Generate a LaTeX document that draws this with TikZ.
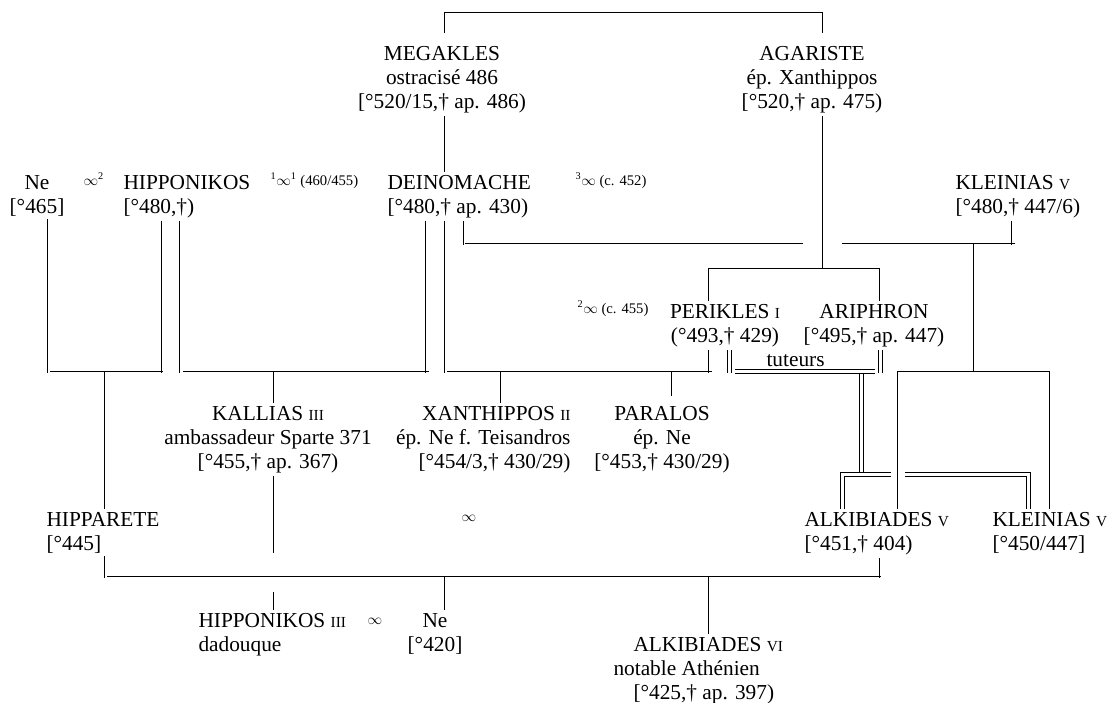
\documentclass[tikz,border=0pt]{standalone}
\usepackage{fontspec}
\setmainfont{Liberation Serif}
\usepackage{tikz}

\newcommand\rmn[1]{{\fontsize{11.5}{13}\selectfont #1}}

\tikzset{
    person/.style = {inner xsep=0pt, inner ysep=2pt, font=\fontsize{16}{18}\selectfont},
    note/.style   = {inner sep=0pt, anchor=base west, font=\fontsize{11}{13}\selectfont},
    tutor/.style  = {line width=0.6pt}
}

\begin{document}
\begin{tikzpicture}[x=0.75pt, y=-0.75pt, line width=0.75pt]
    \useasboundingbox (0,0) rectangle (1107,703);

    % persons
    \node[person, anchor=north, align=center] (megakles) at (442,43) {MEGAKLES\\ostracisé 486\\{}[°520/15,† ap. 486)};
    \node[person, anchor=north, align=center] (agariste) at (812,43) {AGARISTE\\ép. Xanthippos\\{}[°520,† ap. 475)};
    \node[person, anchor=north, align=center] (ne1) at (37,172) {Ne\\{}[°465]};
    \node[person, anchor=north west, align=left] (hipponikos) at (123,172) {HIPPONIKOS\\{}[°480,†)};
    \node[person, anchor=north west, align=left] (deinomache) at (387,172) {DEINOMACHE\\{}[°480,† ap. 430)};
    \node[person, anchor=north west, align=left] (kleinias) at (955,172) {KLEINIAS \rmn{V}\\{}[°480,† 447/6)};
    \node[person, anchor=north, align=center] (perikles) at (725,301) {PERIKLES \rmn{I}\\(°493,† 429)};
    \node[person, anchor=north, align=center] (ariphron) at (874,301) {ARIPHRON\\{}[°495,† ap. 447)};
    \node[person, anchor=north, align=center] (kallias) at (268,403) {KALLIAS \rmn{III}\\ambassadeur Sparte 371\\{}[°455,† ap. 367)};
    \node[person, anchor=north east, align=right] (xanthippos) at (571,403) {XANTHIPPOS \rmn{II}\\ép. Ne f. Teisandros\\{}[°454/3,† 430/29)};
    \node[person, anchor=north, align=center] (paralos) at (662,403) {PARALOS\\ép. Ne\\{}[°453,† 430/29)};
    \node[person, anchor=north west, align=left] (hipparete) at (46,509) {HIPPARETE\\{}[°445]};
    \node[person, anchor=north west, align=left] (alkibiades) at (804,509) {ALKIBIADES \rmn{V}\\{}[°451,† 404)};
    \node[person, anchor=north west, align=left] (kleiniasjr) at (992,509) {KLEINIAS \rmn{V}\\{}[°450/447]};
    \node[person, anchor=north west, align=left] (hipponikosjr) at (198,610) {HIPPONIKOS \rmn{III}\\dadouque};
    \node[person, anchor=north, align=center] (ne2) at (435,610) {Ne\\{}[°420]};
    \node[person, anchor=north west, align=left] (alkibiadesjr) at (633,634) {ALKIBIADES \rmn{VI}\\\hspace*{-15pt}notable Athénien\\{}[°425,† ap. 397)};

    % marriages
    \node[note] (m2) at (83,185) {$\infty$\textsuperscript{2}};
    \node[note] (m1) at (270,185) {\textsuperscript{1}$\infty$\textsuperscript{1} (460/455)};
    \node[note] (m3) at (575,185) {\textsuperscript{3}$\infty$ (c. 452)};
    \node[note] (m4) at (577,313) {\textsuperscript{2}$\infty$ (c. 455)};
    \node[note] (m5) at (461,521) {$\infty$};
    \node[note] (m6) at (367,624) {$\infty$};
    \node[person, inner sep=0pt, anchor=base west] (tuteurs) at (766,366) {tuteurs};

    % Megakles x Agariste
    \draw (444,33) -- (444,12) -- (822,12) -- (822,33);
    \draw (444,0 |- megakles.south) -- (444,0 |- deinomache.north);
    \draw (822,0 |- agariste.south) -- (822,268);
    \draw (708,0 |- perikles.north) -- (708,268) -- (879,268) -- (879,0 |- ariphron.north);

    % Deinomache x Kleinias
    \draw (463,0 |- deinomache.south) -- (463,245);
    \draw (465,243) -- (803,243);
    \draw (842,243) -- (1015,243);
    \draw (1011,0 |- kleinias.south) -- (1011,245);
    \draw (973,243) -- (973,371);
    \draw (897,0 |- alkibiades.north) -- (897,371) -- (1049,371) -- (1049,0 |- kleiniasjr.north);

    % Ne x Hipponikos x Deinomache x Perikles
    \draw (47,0 |- ne1.south) -- (47,373);
    \draw (161,0 |- hipponikos.south) -- (161,373);
    \draw (179,0 |- hipponikos.south) -- (179,373);
    \draw (425,0 |- deinomache.south) -- (425,373);
    \draw (444,0 |- deinomache.south) -- (444,373);
    \draw (708,0 |- perikles.south) -- (708,373);
    \draw (50,371) -- (163,371);
    \draw (183,371) -- (429,371);
    \draw (447,371) -- (712,371);
    \draw (104,371) -- (104,0 |- hipparete.north);
    \draw (273,371) -- (273,0 |- kallias.north);
    \draw (500,371) -- (500,0 |- xanthippos.north);
    \draw (671,371) -- (671,396);

    % tuteurs (double lines)
    \foreach \dx in {-2,2} {
        \draw[tutor] (729+\dx,0 |- perikles.south) -- (729+\dx,373);
        \draw[tutor] (880+\dx,0 |- ariphron.south) -- (880+\dx,373);
        \draw[tutor] (861+\dx,373) -- (861+\dx,472);
        \draw[tutor] (735,371+\dx) -- (875,371+\dx);
    }
    \draw[tutor] (891,472) -- (840,472) -- (840,0 |- alkibiades.north);
    \draw[tutor] (891,476) -- (844,476) -- (844,0 |- alkibiades.north);
    \draw[tutor] (905,472) -- (1030,472) -- (1030,0 |- kleiniasjr.north);
    \draw[tutor] (905,476) -- (1026,476) -- (1026,0 |- kleiniasjr.north);

    % Hipparete x Alkibiades
    \draw (273,0 |- kallias.south) -- (273,553);
    \draw (273,592) -- (273,0 |- hipponikosjr.north);
    \draw (104,0 |- hipparete.south) -- (104,578);
    \draw (107,576) -- (881,576);
    \draw (879,0 |- alkibiades.south) -- (879,578);
    \draw (444,576) -- (444,0 |- ne2.north);
    \draw (708,576) -- (708,0 |- alkibiadesjr.north);
\end{tikzpicture}
\end{document}
